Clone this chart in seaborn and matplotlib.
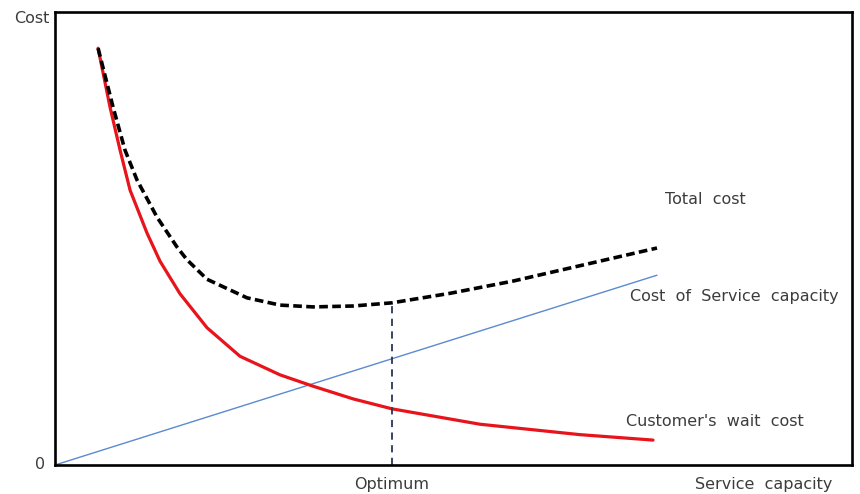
import matplotlib
matplotlib.use("Agg")
import matplotlib.pyplot as plt
import seaborn as sns

# Valeurs (axes 0-100 en x et en y)
wait_x = [5.4, 6.9, 8.16, 9.41, 11.54, 13.17, 15.68, 19.07, 23.21, 28.23, 32.37,
          37.39, 42.28, 53.32, 65.87, 75.03]
wait_y = [92.0, 79.0, 69.5, 60.7, 51.2, 45.0, 37.8, 30.3, 24.0, 19.9, 17.4,
          14.6, 12.4, 9.0, 6.7, 5.5]

total_x = [5.4, 7.28, 8.78, 10.29, 12.8, 15.31, 16.56, 19.07, 24.09, 28.23,
           32.37, 37.39, 42.28, 49.56, 57.47, 75.53]
total_y = [92.0, 79.0, 69.5, 62.9, 54.7, 48.1, 45.3, 41.0, 36.9, 35.3,
           34.9, 35.1, 35.8, 37.9, 40.6, 47.9]

service_x = [0.0, 75.53]
service_y = [0.0, 41.9]

optimum_x = 42.28
optimum_top = 35.8

sns.set_style("white")

fig = plt.figure(figsize=(8.6, 4.94), dpi=100)
ax = fig.add_axes([0.064, 0.0587, 0.9267, 0.917])

sns.lineplot(x=service_x, y=service_y, ax=ax, color="#5b8ad0", linewidth=1.0)
sns.lineplot(x=wait_x, y=wait_y, ax=ax, color="#e8141c", linewidth=2.3,
             solid_joinstyle="round")
sns.lineplot(x=total_x, y=total_y, ax=ax, color="black", linewidth=2.6,
             linestyle=(0, (2.4, 1.2)), dash_joinstyle="round")
ax.vlines(optimum_x, 0, optimum_top, colors="#2b3656", linewidth=1.3,
          linestyles=(0, (4, 3)))

ax.set_xlim(0, 100)
ax.set_ylim(0, 100)
ax.set_xticks([])
ax.set_yticks([])
for s in ax.spines.values():
    s.set_visible(True)
    s.set_color("black")
    s.set_linewidth(1.9)

txt = dict(color="#3c3c3c", fontsize=11.5)
ax.text(76.5, 58.5, "Total  cost", ha="left", va="center", **txt)
ax.text(72.1, 37.1, "Cost  of  Service  capacity", ha="left", va="center", **txt)
ax.text(71.6, 9.5, "Customer's  wait  cost", ha="left", va="center", **txt)

fig.text(0.058, 0.962, "Cost", ha="right", va="center", **txt)
fig.text(0.052, 0.059, "0", ha="right", va="center", **txt)
fig.text(392 / 860, 0.02, "Optimum", ha="center", va="center", **txt)
fig.text(695 / 860, 0.02, "Service  capacity", ha="left", va="center", **txt)

fig.savefig("out.png", dpi=100)
